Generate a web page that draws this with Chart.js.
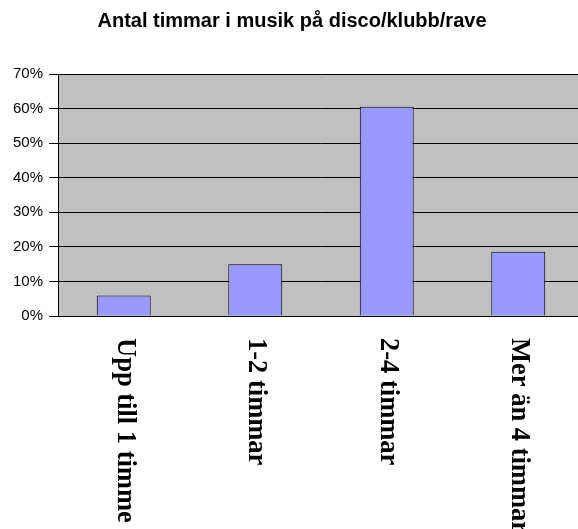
<!DOCTYPE html>
<html>
<head>
<meta charset="utf-8">
<script src="https://cdn.jsdelivr.net/npm/chart.js@4"></script>
<style>
  html, body { margin: 0; padding: 0; overflow: hidden; background: #fff; }
  canvas { display: block; }
</style>
</head>
<body>
<canvas id="myChart" width="590" height="529"></canvas>
<script>
const categories = ['Upp till 1 timme', '1-2 timmar', '2-4 timmar', 'Mer än 4 timmar'];
const values = [5.9, 15, 60.5, 18.6];
const yTicks = [0, 10, 20, 30, 40, 50, 60, 70];

// grey plot background
const plotBackground = {
  id: 'plotBackground',
  beforeDraw(chart) {
    const { ctx, chartArea } = chart;
    ctx.save();
    ctx.fillStyle = '#c0c0c0';
    ctx.fillRect(chartArea.left, chartArea.top, chartArea.right - chartArea.left, chartArea.bottom - chartArea.top);
    ctx.restore();
  }
};

// x labels rotated clockwise, read top to bottom
const verticalLabels = {
  id: 'verticalLabels',
  afterDraw(chart) {
    const { ctx } = chart;
    const xs = chart.scales.x;
    ctx.save();
    ctx.fillStyle = '#000';
    ctx.font = 'bold 26.5px "Liberation Serif", "Times New Roman", serif';
    ctx.textAlign = 'left';
    ctx.textBaseline = 'alphabetic';
    categories.forEach((label, i) => {
      const x = xs.getPixelForTick(i);
      ctx.save();
      ctx.translate(x - 6, chart.chartArea.bottom + 22);
      ctx.rotate(Math.PI / 2);
      ctx.fillText(label, 0, 0);
      ctx.restore();
    });
    ctx.restore();
  }
};

const ctx = document.getElementById('myChart');
const myChart = new Chart(ctx, {
  type: 'bar',
  data: {
    labels: categories,
    datasets: [{
      data: values,
      backgroundColor: '#9999ff',
      borderColor: '#000',
      borderWidth: 1,
      barPercentage: 0.41,
      categoryPercentage: 1
    }]
  },
  options: {
    responsive: false,
    animation: false,
    layout: { padding: { top: 0, right: 6, bottom: 0, left: 0 } },
    plugins: {
      legend: { display: false },
      tooltip: { enabled: false },
      title: {
        display: true,
        text: 'Antal timmar i musik på disco/klubb/rave',
        color: '#000',
        font: { family: '"Liberation Sans", Arial, sans-serif', size: 20, weight: 'bold' },
        padding: { top: 9, bottom: 41 }
      }
    },
    scales: {
      x: {
        grid: { display: false },
        border: { display: true, color: '#000' },
        ticks: { display: false },
        afterFit(scale) { scale.height = 213; }
      },
      y: {
        min: 0,
        max: 70,
        afterBuildTicks(scale) { scale.ticks = yTicks.map(v => ({ value: v })); },
        grid: { color: '#000', lineWidth: 1, tickLength: 9 },
        border: { display: true, color: '#000' },
        ticks: {
          color: '#000',
          padding: 6,
          font: { family: '"Liberation Sans", Arial, sans-serif', size: 15 },
          callback: v => v + '%'
        },
        afterFit(scale) { scale.width = 58; }
      }
    }
  },
  plugins: [plotBackground, verticalLabels]
});
</script>
</body>
</html>
